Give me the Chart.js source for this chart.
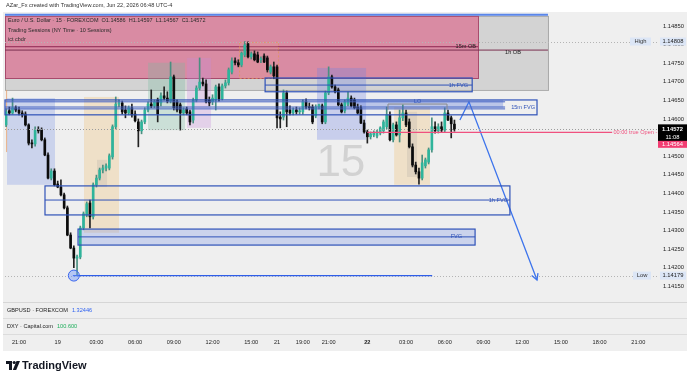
<!DOCTYPE html>
<html>
<head>
<meta charset="utf-8">
<script src="https://cdn.jsdelivr.net/npm/chart.js@4.4.1/dist/chart.umd.min.js"></script>
<style>
  html, body { margin: 0; padding: 0; background: #fff; }
  canvas { display: block; }
</style>
</head>
<body>
<canvas id="eurusdChart" width="690" height="376"></canvas>
<script>
// ---------- EURUSD 15m candles, Jun 18 20:00 -> Jun 22 06:45 (index = bar number) ---------- //
const openP = [
  1.14584, 1.14622, 1.14616, 1.14630, 1.14624, 1.14616, 1.14613, 1.14584, 1.14535, 1.14533,
  1.14570, 1.14570, 1.14544, 1.14503, 1.14441, 1.14460, 1.14425, 1.14417, 1.14396, 1.14361,
  1.14288, 1.14253, 1.14226, 1.14229, 1.14307, 1.14342, 1.14374, 1.14337, 1.14423, 1.14441,
  1.14463, 1.14468, 1.14468, 1.14498, 1.14579, 1.14640, 1.14643, 1.14624, 1.14616, 1.14630,
  1.14613, 1.14592, 1.14568, 1.14592, 1.14624, 1.14640, 1.14635, 1.14651, 1.14643, 1.14662,
  1.14656, 1.14648, 1.14713, 1.14646, 1.14638, 1.14616, 1.14627, 1.14619, 1.14597, 1.14651,
  1.14683, 1.14699, 1.14694, 1.14651, 1.14646, 1.14651, 1.14686, 1.14654, 1.14689, 1.14697,
  1.14726, 1.14756, 1.14751, 1.14745, 1.14772, 1.14802, 1.14767, 1.14775, 1.14772, 1.14759,
  1.14769, 1.14764, 1.14726, 1.14740, 1.14740, 1.14605, 1.14605, 1.14670, 1.14624, 1.14616,
  1.14624, 1.14619, 1.14619, 1.14646, 1.14632, 1.14632, 1.14608, 1.14632, 1.14635, 1.14592,
  1.14670, 1.14713, 1.14686, 1.14678, 1.14638, 1.14622, 1.14640, 1.14656, 1.14651, 1.14632,
  1.14630, 1.14589, 1.14565, 1.14552, 1.14557, 1.14554, 1.14562, 1.14568, 1.14579, 1.14611,
  1.14544, 1.14584, 1.14557, 1.14603, 1.14616, 1.14592, 1.14525, 1.14476, 1.14458, 1.14441,
  1.14474, 1.14484, 1.14517, 1.14579, 1.14568, 1.14579, 1.14570, 1.14616, 1.14603, 1.14586
];
const highP = [
  1.14627, 1.14632, 1.14656, 1.14635, 1.14632, 1.14622, 1.14619, 1.14587, 1.14544, 1.14579,
  1.14579, 1.14576, 1.14549, 1.14509, 1.14466, 1.14466, 1.14433, 1.14436, 1.14401, 1.14366,
  1.14294, 1.14259, 1.14234, 1.14312, 1.14350, 1.14377, 1.14382, 1.14428, 1.14449, 1.14468,
  1.14476, 1.14479, 1.14506, 1.14584, 1.14659, 1.14651, 1.14648, 1.14635, 1.14635, 1.14640,
  1.14622, 1.14600, 1.14597, 1.14630, 1.14646, 1.14678, 1.14651, 1.14656, 1.14670, 1.14686,
  1.14673, 1.14753, 1.14718, 1.14651, 1.14643, 1.14630, 1.14632, 1.14624, 1.14656, 1.14689,
  1.14764, 1.14710, 1.14705, 1.14659, 1.14665, 1.14691, 1.14694, 1.14694, 1.14705, 1.14737,
  1.14764, 1.14764, 1.14759, 1.14780, 1.14808, 1.14807, 1.14780, 1.14783, 1.14780, 1.14767,
  1.14775, 1.14769, 1.14745, 1.14753, 1.14745, 1.14619, 1.14678, 1.14675, 1.14635, 1.14630,
  1.14632, 1.14630, 1.14651, 1.14654, 1.14643, 1.14638, 1.14638, 1.14640, 1.14640, 1.14675,
  1.14740, 1.14718, 1.14691, 1.14683, 1.14643, 1.14651, 1.14673, 1.14662, 1.14656, 1.14640,
  1.14635, 1.14597, 1.14570, 1.14565, 1.14568, 1.14570, 1.14579, 1.14597, 1.14632, 1.14619,
  1.14589, 1.14592, 1.14624, 1.14638, 1.14624, 1.14600, 1.14533, 1.14484, 1.14468, 1.14503,
  1.14495, 1.14522, 1.14603, 1.14592, 1.14587, 1.14592, 1.14630, 1.14624, 1.14608, 1.14597
];
const lowP = [
  1.14579, 1.14611, 1.14613, 1.14619, 1.14611, 1.14605, 1.14581, 1.14530, 1.14522, 1.14527,
  1.14562, 1.14541, 1.14501, 1.14439, 1.14436, 1.14420, 1.14415, 1.14393, 1.14358, 1.14286,
  1.14251, 1.14200, 1.14179, 1.14224, 1.14302, 1.14337, 1.14307, 1.14331, 1.14417, 1.14436,
  1.14455, 1.14460, 1.14463, 1.14492, 1.14573, 1.14632, 1.14613, 1.14603, 1.14611, 1.14605,
  1.14592, 1.14525, 1.14560, 1.14587, 1.14619, 1.14630, 1.14630, 1.14592, 1.14635, 1.14651,
  1.14643, 1.14643, 1.14624, 1.14619, 1.14570, 1.14611, 1.14611, 1.14584, 1.14589, 1.14646,
  1.14678, 1.14689, 1.14643, 1.14635, 1.14638, 1.14624, 1.14648, 1.14651, 1.14683, 1.14691,
  1.14721, 1.14745, 1.14740, 1.14740, 1.14767, 1.14764, 1.14761, 1.14756, 1.14751, 1.14751,
  1.14751, 1.14726, 1.14721, 1.14708, 1.14576, 1.14576, 1.14597, 1.14579, 1.14611, 1.14611,
  1.14613, 1.14613, 1.14613, 1.14627, 1.14624, 1.14587, 1.14603, 1.14627, 1.14587, 1.14587,
  1.14665, 1.14683, 1.14670, 1.14635, 1.14616, 1.14616, 1.14635, 1.14632, 1.14627, 1.14613,
  1.14587, 1.14562, 1.14535, 1.14546, 1.14552, 1.14549, 1.14557, 1.14562, 1.14573, 1.14541,
  1.14538, 1.14554, 1.14538, 1.14595, 1.14579, 1.14522, 1.14471, 1.14452, 1.14425, 1.14436,
  1.14468, 1.14479, 1.14511, 1.14562, 1.14562, 1.14565, 1.14565, 1.14595, 1.14549, 1.14567
];
const closeP = [
  1.14619, 1.14616, 1.14630, 1.14624, 1.14616, 1.14611, 1.14584, 1.14535, 1.14533, 1.14570,
  1.14568, 1.14544, 1.14503, 1.14441, 1.14460, 1.14423, 1.14417, 1.14396, 1.14361, 1.14288,
  1.14253, 1.14226, 1.14229, 1.14307, 1.14345, 1.14372, 1.14337, 1.14423, 1.14441, 1.14463,
  1.14468, 1.14474, 1.14501, 1.14579, 1.14640, 1.14643, 1.14619, 1.14616, 1.14630, 1.14611,
  1.14595, 1.14568, 1.14592, 1.14624, 1.14640, 1.14635, 1.14646, 1.14613, 1.14662, 1.14656,
  1.14648, 1.14713, 1.14630, 1.14624, 1.14616, 1.14624, 1.14616, 1.14592, 1.14651, 1.14683,
  1.14699, 1.14694, 1.14646, 1.14643, 1.14656, 1.14686, 1.14654, 1.14689, 1.14697, 1.14732,
  1.14756, 1.14751, 1.14745, 1.14777, 1.14799, 1.14767, 1.14775, 1.14759, 1.14753, 1.14761,
  1.14753, 1.14732, 1.14740, 1.14716, 1.14603, 1.14600, 1.14670, 1.14619, 1.14616, 1.14624,
  1.14619, 1.14622, 1.14646, 1.14632, 1.14630, 1.14592, 1.14632, 1.14638, 1.14592, 1.14670,
  1.14713, 1.14686, 1.14673, 1.14638, 1.14619, 1.14646, 1.14656, 1.14635, 1.14630, 1.14616,
  1.14589, 1.14565, 1.14552, 1.14560, 1.14562, 1.14565, 1.14576, 1.14592, 1.14611, 1.14544,
  1.14584, 1.14557, 1.14603, 1.14616, 1.14584, 1.14525, 1.14476, 1.14458, 1.14441, 1.14482,
  1.14490, 1.14517, 1.14579, 1.14568, 1.14579, 1.14570, 1.14616, 1.14597, 1.14587, 1.14572
];

// price scale + time scale labels
const priceTicks = [1.1415, 1.142, 1.1425, 1.143, 1.1435, 1.144, 1.1445, 1.145, 1.1455, 1.146,
  1.1465, 1.147, 1.1475, 1.148, 1.1485];
const timeTickIdx = [4, 16, 28, 40, 52, 64, 76, 84, 92, 100, 112, 124, 136, 148, 160, 172, 184, 196];
const timeTickLabels = ["21:00", "19", "03:00", "06:00", "09:00", "12:00", "15:00", "21", "19:00",
  "21:00", "22", "03:00", "06:00", "09:00", "12:00", "15:00", "18:00", "21:00"];

// projection drawn after last candle (bar index, price)
const projIdx = [140.7, 143.5, 164.6];
const projPrice = [1.14597, 1.14646, 1.14167];

const lastClose = 1.14572;
const trueOpen = 1.14564;
const sessionHigh = 1.14808;
const sessionLow = 1.14179;

// ---------- drawings (bar index / price coordinates) ---------- //
const obBoxes = [
  { x0: -0.34, x1: 168.0, y0: 1.14877, y1: 1.14678, fill: "#d3d3d3", stroke: "#a9a9a9" },
  { x0: -0.34, x1: 146.3, y0: 1.14877, y1: 1.14710, fill: "#d98ba3", stroke: "#a84a6c" },
];
const sessionBoxes = [
  { x0: 0.28, x1: 15.16, y0: 1.14656, y1: 1.14423, fill: "rgba(110,140,230,0.28)" },
  { x0: 24.16, x1: 35.01, y0: 1.14659, y1: 1.14294, fill: "rgba(240,190,110,0.30)" },
  { x0: 28.19, x1: 31.29, y0: 1.14490, y1: 1.14417, fill: "rgba(150,150,150,0.18)" },
  { x0: 44.0, x1: 55.47, y0: 1.14751, y1: 1.14570, fill: "rgba(120,185,160,0.30)" },
  { x0: 56.09, x1: 63.53, y0: 1.14764, y1: 1.14576, fill: "rgba(200,140,220,0.30)" },
  { x0: 96.4, x1: 111.6, y0: 1.14737, y1: 1.14544, fill: "rgba(110,130,230,0.30)" },
  { x0: 120.3, x1: 131.4, y0: 1.14632, y1: 1.14423, fill: "rgba(240,190,110,0.30)" },
  { x0: 124.3, x1: 127.4, y0: 1.14619, y1: 1.14444, fill: "rgba(150,150,150,0.18)" },
  { x0: 72.22, x1: 84.31, y0: 1.14807, y1: 1.14710, fill: "rgba(235,160,140,0.18)",
    stroke: "rgba(225,150,90,0.8)", dash: [2, 2] },
];
const fvgBoxes = [
  { x0: 80.3, x1: 144.5, y0: 1.14710, y1: 1.14673, mid: 1.14691, label: "1h FVG", lx: 143.2 },
  { x0: -0.34, x1: 164.6, y0: 1.14651, y1: 1.14611, label: "15m FVG", lx: 164.0 },
  { x0: 12.06, x1: 156.2, y0: 1.14420, y1: 1.14342, mid: 1.14382, label: "1h FVG", lx: 155.6 },
  { x0: 22.3, x1: 145.4, y0: 1.14304, y1: 1.14261, mid: 1.14283, label: "FVG", lx: 141.4,
    fill: "rgba(110,140,230,0.28)" },
];
const fvgLines = [
  { x0: -0.34, x1: 154.7, y: 1.14646 },
  { x0: -0.34, x1: 154.7, y: 1.14632 },
  { x0: -0.34, x1: 154.7, y: 1.14627 },
];

const FONT = '"Liberation Sans", "DejaVu Sans", sans-serif';

function drawText(ctx, s, x, y, opt = {}) {
  ctx.save();
  ctx.font = `${opt.bold ? "bold " : ""}${opt.size || 5.8}px ${FONT}`;
  ctx.fillStyle = opt.color || "#222";
  ctx.textAlign = opt.align || "left";
  ctx.textBaseline = "middle";
  ctx.fillText(s, x, y);
  const w = ctx.measureText(s).width;
  ctx.restore();
  return w;
}

function hLine(ctx, x0, x1, y, color, width, dash) {
  ctx.save();
  ctx.strokeStyle = color;
  ctx.lineWidth = width || 1;
  ctx.setLineDash(dash || []);
  ctx.beginPath();
  ctx.moveTo(x0, y);
  ctx.lineTo(x1, y);
  ctx.stroke();
  ctx.restore();
}

function labelBox(ctx, s, x, y, w, h, bg, color) {
  ctx.fillStyle = bg;
  ctx.fillRect(x, y - h / 2, w, h);
  drawText(ctx, s, x + w / 2, y + 0.3, { color, align: "center" });
}

const tvDrawings = {
  id: "tvDrawings",
  beforeDraw(chart) {
    const { ctx } = chart;
    ctx.save();
    ctx.fillStyle = "#ffffff";
    ctx.fillRect(0, 0, chart.width, chart.height);
    ctx.fillStyle = "#efefef";
    ctx.fillRect(3, 12, 684, 339);
    ctx.restore();
  },
  beforeDatasetsDraw(chart) {
    const { ctx, chartArea: a } = chart;
    const px = (v) => chart.scales.x.getPixelForValue(v);
    const py = (v) => chart.scales.y.getPixelForValue(v);
    ctx.save();
    ctx.beginPath();
    ctx.rect(a.left, a.top, a.right - a.left, a.bottom - a.top);
    ctx.clip();

    obBoxes.forEach((b) => {
      ctx.fillStyle = b.fill;
      ctx.fillRect(px(b.x0), py(b.y0), px(b.x1) - px(b.x0), py(b.y1) - py(b.y0));
      ctx.strokeStyle = b.stroke;
      ctx.lineWidth = 1;
      ctx.strokeRect(px(b.x0) + 0.5, py(b.y0) + 0.5, px(b.x1) - px(b.x0), py(b.y1) - py(b.y0));
    });
    // OB mid lines
    hLine(ctx, px(-0.34), px(146.3), py(1.14794), "#8e2450", 1);
    hLine(ctx, px(-0.34), px(168.0), py(1.14785), "#7a3050", 1);

    sessionBoxes.forEach((b) => {
      ctx.fillStyle = b.fill;
      ctx.fillRect(px(b.x0), py(b.y0), px(b.x1) - px(b.x0), py(b.y1) - py(b.y0));
      if (b.stroke) {
        ctx.save();
        ctx.strokeStyle = b.stroke;
        ctx.setLineDash(b.dash);
        ctx.strokeRect(px(b.x0) + 0.5, py(b.y0) + 0.5, px(b.x1) - px(b.x0), py(b.y1) - py(b.y0));
        ctx.restore();
      }
    });

    // 15m FVG filled band
    ctx.fillStyle = "rgba(90,120,220,0.35)";
    ctx.fillRect(px(108.2), py(1.14651), px(154.1) - px(108.2), py(1.14630) - py(1.14651));

    fvgBoxes.forEach((b) => {
      if (b.fill) {
        ctx.fillStyle = b.fill;
        ctx.fillRect(px(b.x0), py(b.y0), px(b.x1) - px(b.x0), py(b.y1) - py(b.y0));
      }
    });

    // orange tick at the left
    ctx.strokeStyle = "rgba(230,160,110,0.8)";
    ctx.beginPath();
    ctx.moveTo(px(0) + 0.5, py(1.14678));
    ctx.lineTo(px(0) + 0.5, py(1.14511));
    ctx.stroke();

    // "15" watermark
    drawText(ctx, "15", px(96.2), py(1.14480), { size: 44, color: "#d2d2d2" });
    ctx.restore();
  },
  afterDatasetsDraw(chart) {
    const { ctx, chartArea: a } = chart;
    const px = (v) => chart.scales.x.getPixelForValue(v);
    const py = (v) => chart.scales.y.getPixelForValue(v);

    // high / low / last dotted lines
    hLine(ctx, a.left, a.right, Math.round(py(sessionHigh)) + 0.5, "#b4b4b4", 1, [1, 2]);
    hLine(ctx, a.left, a.right, Math.round(py(sessionLow)) + 0.5, "#b4b4b4", 1, [1, 2]);
    hLine(ctx, a.left, a.right, Math.round(py(lastClose)) + 0.5, "#9c9c9c", 1, [1, 2]);

    // top blue line
    hLine(ctx, px(-0.34), px(168.0), py(1.14880), "#5a86ea", 2);

    // FVG boxes
    const blue = "#2f52b8";
    fvgBoxes.forEach((b) => {
      ctx.save();
      ctx.strokeStyle = blue;
      ctx.lineWidth = 1.2;
      ctx.strokeRect(px(b.x0), py(b.y0), px(b.x1) - px(b.x0), py(b.y1) - py(b.y0));
      ctx.restore();
      if (b.mid) hLine(ctx, px(b.x0), px(b.x1), py(b.mid), blue, 1);
      const ly = b.mid ? py(b.mid) : (py(b.y0) + py(b.y1)) / 2;
      drawText(ctx, b.label, px(b.lx), ly, { align: "right", color: blue, size: 5.6 });
    });
    fvgLines.forEach((l) => hLine(ctx, px(l.x0), px(l.x1), py(l.y), "#4664c4", 1));

    // LO marker
    ctx.save();
    ctx.strokeStyle = "#8a8a8a";
    ctx.beginPath();
    ctx.moveTo(px(118.4), py(1.14625));
    ctx.lineTo(px(118.4), py(1.14640));
    ctx.lineTo(px(136.7), py(1.14640));
    ctx.lineTo(px(136.7), py(1.14625));
    ctx.stroke();
    ctx.restore();
    drawText(ctx, "LO", px(127.6), py(1.14648), { align: "center", color: "#2f52b8", size: 5.4 });

    // OB labels
    drawText(ctx, "15m OB", px(145.7), py(1.14794), { align: "right", size: 5.6 });
    drawText(ctx, "1h OB", px(159.6), py(1.14780), { align: "right", size: 5.6 });

    // swing low line + circle
    hLine(ctx, px(20.7), px(132.1), py(sessionLow), "#2f5ee8", 1.3);
    ctx.save();
    ctx.beginPath();
    ctx.arc(px(21), py(sessionLow), 5.5, 0, Math.PI * 2);
    ctx.fillStyle = "rgba(110,150,250,0.45)";
    ctx.fill();
    ctx.strokeStyle = "#3a66ee";
    ctx.lineWidth = 1;
    ctx.stroke();
    ctx.restore();

    // true open line
    hLine(ctx, px(112), px(187.9), py(trueOpen), "#f0517f", 1.2);
    drawText(ctx, "00:00 true Open -", px(188.3), py(trueOpen), { color: "#f0517f", size: 5.6 });

    // projection arrow head
    const n = projIdx.length;
    const x1 = px(projIdx[n - 1]), y1 = py(projPrice[n - 1]);
    const x0 = px(projIdx[n - 2]), y0 = py(projPrice[n - 2]);
    const ang = Math.atan2(y1 - y0, x1 - x0);
    ctx.save();
    ctx.strokeStyle = "#3d74ec";
    ctx.lineWidth = 1.3;
    ctx.beginPath();
    ctx.moveTo(x1 - 7 * Math.cos(ang - 0.5), y1 - 7 * Math.sin(ang - 0.5));
    ctx.lineTo(x1, y1);
    ctx.lineTo(x1 - 7 * Math.cos(ang + 0.5), y1 - 7 * Math.sin(ang + 0.5));
    ctx.stroke();
    ctx.restore();
  },
  afterDraw(chart) {
    const { ctx } = chart;
    const px = (v) => chart.scales.x.getPixelForValue(v);
    const py = (v) => chart.scales.y.getPixelForValue(v);

    // price scale labels
    labelBox(ctx, "High", 630, py(sessionHigh), 21, 8, "#dce6f6", "#333");
    labelBox(ctx, sessionHigh.toFixed(5), 660, py(sessionHigh), 26, 8, "#dce6f6", "#222");
    labelBox(ctx, "Low", 633, py(sessionLow), 18, 8, "#dce6f6", "#333");
    labelBox(ctx, sessionLow.toFixed(5), 660, py(sessionLow), 26, 8, "#dce6f6", "#222");
    ctx.fillStyle = "#000";
    ctx.fillRect(658, py(lastClose) - 5, 29, 17);
    drawText(ctx, lastClose.toFixed(5), 672.5, py(lastClose), { color: "#fff", align: "center", bold: true });
    drawText(ctx, "11:08", 672.5, py(lastClose) + 8, { color: "#fff", align: "center" });
    labelBox(ctx, trueOpen.toFixed(5), 658, py(trueOpen) + 12, 29, 7, "#f23d72", "#fff");

    // panes under the chart
    hLine(ctx, 3, 687, 302.5, "#d6d6d6", 1);
    hLine(ctx, 3, 687, 318.5, "#dcdcdc", 1);
    hLine(ctx, 3, 687, 334.5, "#dcdcdc", 1);
    const w1 = drawText(ctx, "GBPUSD · FOREXCOM", 7, 310.5, { size: 5.6 });
    drawText(ctx, "1.32446", 7 + w1 + 4, 310.5, { size: 5.6, color: "#2f62f0" });
    const w2 = drawText(ctx, "DXY · Capital.com", 7, 326.5, { size: 5.6 });
    drawText(ctx, "100.600", 7 + w2 + 4, 326.5, { size: 5.6, color: "#1fae5c" });

    // time scale
    timeTickIdx.forEach((idx, k) => {
      const lab = timeTickLabels[k];
      drawText(ctx, lab, px(idx), 342.5, { align: "center", size: 5.6, bold: lab === "22" });
    });

    // header + legend
    drawText(ctx, "AZar_Fx created with TradingView.com, Jun 22, 2026 06:48 UTC-4", 6, 5.5, { size: 5.6, color: "#333" });
    drawText(ctx, "Euro / U.S. Dollar · 15 · FOREXCOM  O1.14586  H1.14597  L1.14567  C1.14572", 8, 20.5, { size: 5.5, color: "#2a2a2a" });
    drawText(ctx, "Trading Sessions (NY Time · 10 Sessions)", 8, 30, { size: 5.5, color: "#2a2a2a" });
    drawText(ctx, "ict cbdr", 8, 39, { size: 5.5, color: "#2a2a2a" });

    // TradingView logo
    ctx.save();
    ctx.fillStyle = "#131722";
    ctx.fillRect(6, 361, 6, 3);
    ctx.fillRect(9, 361, 3, 9);
    ctx.beginPath();
    ctx.arc(14.2, 362.5, 1.6, 0, Math.PI * 2);
    ctx.fill();
    ctx.beginPath();
    ctx.moveTo(16.5, 361);
    ctx.lineTo(20, 361);
    ctx.lineTo(16.2, 370);
    ctx.lineTo(12.8, 370);
    ctx.closePath();
    ctx.fill();
    ctx.restore();
    drawText(ctx, "TradingView", 22, 365.5, { size: 11, color: "#131722", bold: true });
  },
};

// -------- build candle datasets from the OHLC arrays -------- //
const upColor = "#2fb49b";
const downColor = "#0b0b0b";
const wickData = lowP.map((lo, i) => ({ x: i, y: [lo, highP[i]] }));
const bodyData = openP.map((o, i) => ({ x: i, y: [o, closeP[i]] }));
const bodyColors = openP.map((o, i) => (closeP[i] >= o ? upColor : downColor));
const wickColors = openP.map((o, i) => (closeP[i] >= o ? "#4a8f80" : "#222222"));
const projData = projIdx.map((x, i) => ({ x, y: projPrice[i] }));

const $chart = document.getElementById("eurusdChart");
new Chart($chart, {
  type: "bar",
  data: {
    datasets: [
      {
        type: "line",
        data: projData,
        borderColor: "#3d74ec",
        borderWidth: 1.3,
        pointRadius: 0,
        order: 0,
      },
      {
        data: bodyData,
        backgroundColor: bodyColors,
        barThickness: 2,
        minBarLength: 1,
        grouped: false,
        order: 1,
      },
      {
        data: wickData,
        backgroundColor: wickColors,
        barThickness: 1,
        grouped: false,
        order: 2,
      },
    ],
  },
  options: {
    responsive: false,
    animation: false,
    layout: { padding: { left: 5, top: 14, bottom: 74, right: 0 } },
    plugins: { legend: { display: false }, tooltip: { enabled: false } },
    scales: {
      x: { type: "linear", min: -0.34, max: 201.8, offset: false, display: false },
      y: {
        position: "right",
        min: 1.14108,
        max: 1.14882,
        grid: { display: false, drawTicks: false },
        border: { display: false },
        ticks: {
          padding: 6,
          color: "#222",
          font: { family: "Liberation Sans", size: 5.8 },
          callback: (v) => Number(v).toFixed(5),
        },
        afterBuildTicks: (axis) => {
          axis.ticks = priceTicks.map((v) => ({ value: v }));
        },
        afterFit: (axis) => {
          axis.width = 33;
        },
      },
    },
  },
  plugins: [tvDrawings],
});
</script>
</body>
</html>
